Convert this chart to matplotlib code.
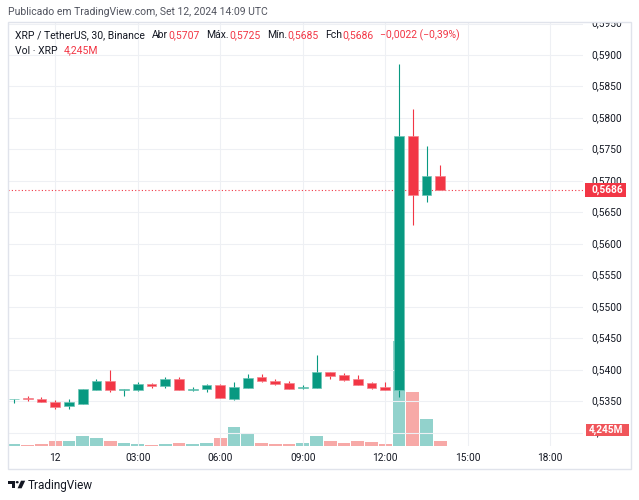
import matplotlib
matplotlib.use('Agg')
import matplotlib.pyplot as plt
import matplotlib.transforms as mtransforms
from matplotlib.patches import Rectangle, Polygon, Circle
import numpy as np

plt.rcParams['font.family'] = ['Roboto', 'DejaVu Sans']

# 30 min candles XRP/USDT, from 22:30 (Sep 11) to 14:00 (Sep 12)
opens = [0.5353, 0.5355, 0.5354, 0.5348, 0.5342, 0.5346, 0.5368, 0.5382,
         0.5368, 0.5368, 0.5378, 0.5374, 0.5385, 0.5368, 0.5369, 0.5375,
         0.5353, 0.5371, 0.5389, 0.5382, 0.5379, 0.5371, 0.5371, 0.5396,
         0.5391, 0.5385, 0.5379, 0.5373, 0.5368, 0.5772, 0.5677, 0.5707]
highs = [0.5354, 0.5358, 0.5357, 0.5352, 0.5353, 0.5370, 0.5386, 0.5399,
         0.5370, 0.5380, 0.5379, 0.5389, 0.5389, 0.5373, 0.5378, 0.5378,
         0.5380, 0.5393, 0.5393, 0.5385, 0.5382, 0.5376, 0.5423, 0.5396,
         0.5395, 0.5391, 0.5381, 0.5381, 0.5885, 0.5814, 0.5755, 0.5725]
lows = [0.5347, 0.5350, 0.5348, 0.5338, 0.5338, 0.5346, 0.5368, 0.5364,
        0.5359, 0.5366, 0.5371, 0.5371, 0.5368, 0.5366, 0.5364, 0.5355,
        0.5352, 0.5371, 0.5380, 0.5375, 0.5369, 0.5369, 0.5371, 0.5386,
        0.5382, 0.5376, 0.5370, 0.5368, 0.5357, 0.5630, 0.5666, 0.5685]
closes = [0.5354, 0.5353, 0.5348, 0.5341, 0.5348, 0.5369, 0.5382, 0.5368,
          0.5370, 0.5377, 0.5374, 0.5385, 0.5368, 0.5370, 0.5375, 0.5355,
          0.5373, 0.5387, 0.5382, 0.5378, 0.5370, 0.5372, 0.5396, 0.5390,
          0.5383, 0.5376, 0.5371, 0.5368, 0.5772, 0.5677, 0.5707, 0.5686]
volumes = [2.0, 1.1, 2.0, 4.2, 4.2, 8.5, 7.1, 4.2, 2.5, 2.0, 1.1, 2.0, 2.8, 2.0,
           2.8, 7.1, 16.4, 9.9, 2.8, 2.0, 2.0, 2.8, 8.5, 4.2, 2.8, 4.2, 3.4, 2.0,
           89.4, 46.1, 22.6, 4.245]
change = -0.0022
change_pct = -0.39

tick_hours = [0, 3, 6, 9, 12, 15, 18]
tick_labels = ['12', '03:00', '06:00', '09:00', '12:00', '15:00', '18:00']
price_levels = [0.5300, 0.5350, 0.5400, 0.5450, 0.5500, 0.5550, 0.5600,
                0.5650, 0.5700, 0.5750, 0.5800, 0.5850, 0.5900, 0.5950]

GREEN = '#089981'
RED = '#f23645'
VGREEN = '#92d2cc'
VRED = '#f7a9a7'
TXT = '#131722'
GRID = '#eef0f4'
FS = 7.5

W, H = 639, 500
def fx(x):
    return x / W
def fy(y):
    return 1 - y / H

fig = plt.figure(figsize=(W / 100, H / 100), dpi=100)

left, right, top, bottom = 8, 583, 22, 446
ax = fig.add_axes([fx(left), fy(bottom), fx(right - left), (bottom - top) / H])
vax = ax.twinx()
ax.set_zorder(vax.get_zorder() + 1)
ax.patch.set_visible(False)

x = np.arange(len(opens))
o = np.array(opens); c = np.array(closes)
up = c >= o

# volume
vcols = [VGREEN if u else VRED for u in up]
vax.bar(x, volumes, width=0.93, color=vcols, linewidth=0)
vax.set_ylim(0, 360)
vax.set_yticks([])

# candles
ccols = [GREEN if u else RED for u in up]
ax.vlines(x, lows, highs, colors=ccols, linewidth=0.8, zorder=3)
body = np.maximum(np.abs(c - o), 0.00012)
ax.bar(x, body, bottom=np.minimum(o, c), width=0.72, color=ccols,
       edgecolor=['#6cc5b5' if u else '#f6838c' for u in up], linewidth=0.5, zorder=4)

ymin, ymax = 0.52788, 0.59524
ax.set_ylim(ymin, ymax)
ax.set_xlim(-0.436, 41.38)
ax.set_yticks(price_levels)
ax.set_xticks([3 + 2 * h for h in tick_hours])
ax.set_xticklabels(tick_labels)
ax.tick_params(axis='x', length=0, pad=5, labelsize=7.3, labelcolor=TXT)
ax.tick_params(axis='y', length=0, labelleft=False)
vax.tick_params(length=0)
ax.grid(True, color=GRID, linewidth=0.8)
for a in (ax, vax):
    for s in a.spines.values():
        s.set_visible(False)

# last price line
ax.axhline(closes[-1], color=RED, linewidth=0.8, linestyle=(0, (1, 2)), zorder=2)

# price scale
pax = fig.add_axes([fx(right), fy(bottom), fx(631 - right), (bottom - top) / H])
pax.set_ylim(ymin, ymax)
pax.set_xlim(0, 1)
pax.axis('off')
for lv in price_levels:
    pax.text(8 / 48, lv, f'{lv:.4f}'.replace('.', ','), color=TXT, size=7.3,
             va='center', ha='left', clip_on=True)

ppx = (ymax - ymin) / (bottom - top)
blend = mtransforms.blended_transform_factory(pax.transAxes, pax.transData)
pax.add_patch(Rectangle((2 / 48, closes[-1] - 7 * ppx), 41 / 48, 14 * ppx,
                        transform=blend, facecolor=RED, edgecolor='none',
                        zorder=5, clip_on=False))
pax.text(8 / 48, closes[-1], f'{closes[-1]:.4f}'.replace('.', ','), transform=blend,
         color='white', size=7.3, weight='bold', va='center', ha='left', zorder=6)

vol_lbl = f'{volumes[-1]:.3f}'.replace('.', ',') + 'M'
pax.add_patch(Rectangle((3 / 48, 10 / 424), 43 / 48, 12 / 424, transform=pax.transAxes,
                        facecolor='#f0555a', edgecolor='none', zorder=5, clip_on=False))
pax.text(6 / 48, 16 / 424, vol_lbl, transform=pax.transAxes, color='white', size=7.3,
         weight='bold', va='center', ha='left', zorder=6)

# outer frame
fig.patches.append(Rectangle((fx(8), fy(469)), fx(631 - 8), (469 - 22) / H,
                             transform=fig.transFigure, fill=False,
                             edgecolor='#e0e3eb', linewidth=1))

fig.text(fx(8), fy(12), 'Publicado em TradingView.com, Set 12, 2024 14:09 UTC',
         color='#50535e', size=FS, va='center', ha='left')

# legend lines
def chain(parts, x0, y0):
    t = fig.text(fx(x0), fy(y0), parts[0][0], color=parts[0][1], size=FS,
                 va='center', ha='left')
    for s, col, gap in parts[1:]:
        t = ax.annotate(s, xy=(1, 0.5), xycoords=t, xytext=(gap, 0),
                        textcoords='offset pixels', color=col, size=FS,
                        va='center', ha='left', annotation_clip=False)

fmt = lambda v: f'{v:.4f}'.replace('.', ',')
chg_txt = f'\u2212{abs(change):.4f} (\u2212{abs(change_pct):.2f}%)'.replace('.', ',')
chain([('XRP / TetherUS, 30, Binance', TXT),
       ('Abr', TXT, 7), (fmt(opens[-1]), RED, 0),
       ('Máx.', TXT, 7), (fmt(highs[-1]), RED, 0),
       ('Mín.', TXT, 7), (fmt(lows[-1]), RED, 0),
       ('Fch', TXT, 7), (fmt(closes[-1]), RED, 0),
       (chg_txt, RED, 6)],
      15, 35)
chain([('Vol · XRP', TXT), (vol_lbl, RED, 6)], 15, 50.5)

# TradingView logo
def P(pts):
    return [(fx(a), fy(b)) for a, b in pts]
fig.patches.append(Polygon(P([(8.3, 480.7), (14.8, 480.7), (14.8, 488.3), (11.6, 488.3),
                              (11.6, 483.6), (8.3, 483.6)]), closed=True,
                           transform=fig.transFigure, facecolor=TXT, edgecolor='none'))
fig.patches.append(Circle((fx(17.2), fy(482.2)), 1.5 / W, transform=fig.transFigure,
                          facecolor=TXT, edgecolor='none'))
fig.patches.append(Polygon(P([(21.0, 480.7), (25.2, 480.7), (21.6, 488.3), (17.6, 488.3)]),
                           closed=True, transform=fig.transFigure,
                           facecolor=TXT, edgecolor='none'))
fig.text(fx(28), fy(485), 'TradingView', color=TXT, size=8.5, va='center', ha='left')

fig.savefig('out.png', dpi=100, facecolor='white')
